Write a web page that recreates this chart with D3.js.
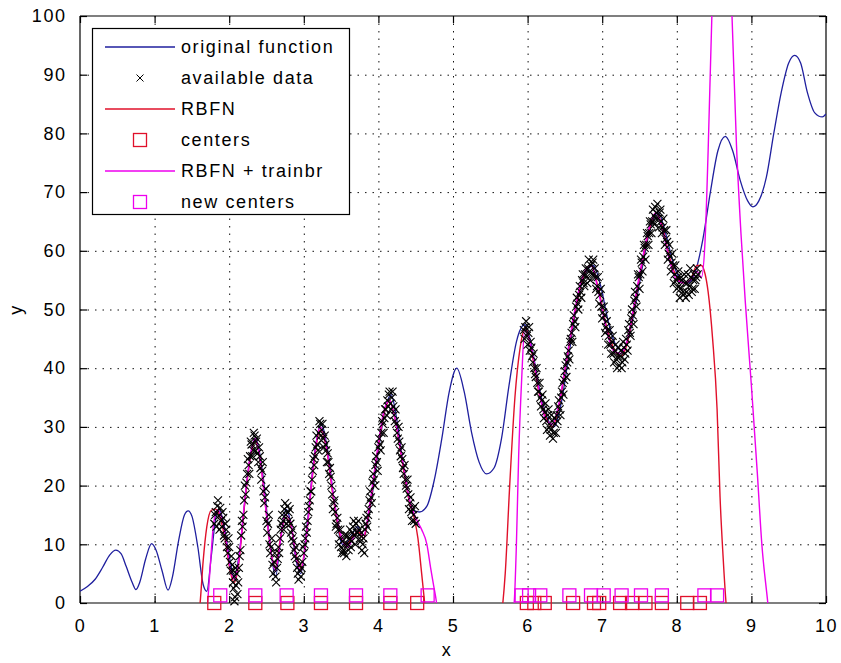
<!DOCTYPE html>
<html><head><meta charset="utf-8">
<script src="https://cdn.jsdelivr.net/npm/d3@7/dist/d3.min.js"></script>
<style>
body{margin:0;background:#fff}
svg text{font-family:"Liberation Sans",Arial,Helvetica,sans-serif;font-size:18px;letter-spacing:1.6px;fill:#000}
</style>
</head><body>
<svg id="chart" width="841" height="663"></svg>
<script>
// ---------- data ----------
const xTicks=[0,1,2,3,4,5,6,7,8,9,10];
const yTicks=[0,10,20,30,40,50,60,70,80,90,100];
const legendLabels=["original function","available data","RBFN","centers","RBFN + trainbr","new centers"];

const originalFunction=[[0,2],[0.1,2.8],[0.2,4],[0.3,6],[0.4,8.2],[0.48,9],[0.55,8.4],[0.62,6.2],[0.7,3.5],[0.75,2.3],[0.8,3.5],[0.88,7.5],[0.96,10.1],[1.02,9],[1.1,5.5],[1.18,2.2],[1.24,4.5],[1.32,10.5],[1.4,15],[1.45,15.7],[1.5,14.8],[1.58,9.5],[1.65,3.2],[1.7,2],[1.76,8],[1.82,14.5],[1.86,16],[1.92,14],[2,8],[2.07,4.4],[2.15,10],[2.25,22],[2.35,28],[2.45,22],[2.55,10],[2.62,4.5],[2.7,12],[2.76,16],[2.82,14],[2.9,7],[2.96,5],[3.05,14],[3.15,26],[3.23,30.5],[3.32,26],[3.42,16],[3.52,10],[3.62,11],[3.72,13],[3.8,11],[3.9,17],[4,26],[4.1,33.5],[4.17,35.5],[4.25,31],[4.35,22],[4.45,16],[4.55,15.5],[4.65,16.5],[4.75,21],[4.85,28],[4.95,36],[5.05,40],[5.15,36],[5.25,29],[5.35,24],[5.45,22],[5.55,23],[5.65,28],[5.75,37],[5.85,44.5],[5.96,47.4],[6.05,44],[6.15,37],[6.25,32],[6.35,30],[6.45,34],[6.55,42],[6.65,50],[6.75,55.5],[6.88,57.5],[6.98,54],[7.08,48],[7.18,44],[7.27,43],[7.35,45],[7.45,51],[7.55,58],[7.65,64],[7.75,66.5],[7.85,63],[7.95,58],[8.05,55],[8.15,54.5],[8.25,56.5],[8.35,62],[8.45,70],[8.55,77],[8.65,79.5],[8.75,77],[8.85,72],[8.95,68.5],[9.02,67.5],[9.1,68.5],[9.2,72.5],[9.3,80],[9.4,87],[9.5,92],[9.58,93.3],[9.66,92],[9.75,87],[9.85,83.5],[9.95,82.8],[10,83.3]];

const availableData=[[1.8,13.5],[1.82,15.5],[1.84,16.5],[1.86,14.8],[1.88,16.2],[1.9,13],[1.92,14.5],[1.94,11],[1.96,12.5],[1.98,8.5],[2,9.5],[2.02,5.5],[2.04,6.5],[2.06,2.5],[2.07,4.5],[2.07,0.3],[2.08,1],[2.09,3],[2.1,5],[2.12,3.5],[2.14,8],[2.16,11.5],[2.18,13],[2.2,17.5],[2.22,18.5],[2.24,22],[2.26,23.5],[2.28,25],[2.3,27],[2.32,26],[2.34,28.5],[2.36,27.5],[2.38,25.5],[2.4,26.5],[2.42,23],[2.44,22.5],[2.46,19],[2.48,18],[2.5,14],[2.52,13.5],[2.54,10],[2.56,9.5],[2.58,6.5],[2.6,7],[2.62,4.5],[2.64,6],[2.66,9.5],[2.68,11],[2.7,13.5],[2.72,14],[2.74,16],[2.76,15],[2.78,16.5],[2.8,14],[2.82,13.5],[2.84,11],[2.86,10.5],[2.88,8],[2.9,7.5],[2.92,5],[2.94,6.5],[2.96,4.5],[2.98,7],[3,8.5],[3.02,11],[3.04,12],[3.06,15.5],[3.08,17.5],[3.1,19],[3.12,22.5],[3.14,23.5],[3.16,26.5],[3.18,27],[3.2,29],[3.22,30.5],[3.24,29.5],[3.26,28],[3.28,28.5],[3.3,26],[3.32,25.5],[3.34,22],[3.36,21.5],[3.38,18.5],[3.4,17],[3.42,15.5],[3.44,13.5],[3.46,12.5],[3.48,11],[3.5,9.5],[3.52,10.5],[3.54,8.5],[3.56,10],[3.58,11.5],[3.6,9],[3.62,12.5],[3.64,10.5],[3.66,13],[3.68,11.5],[3.7,13.5],[3.72,12],[3.74,12.5],[3.76,10.5],[3.78,9],[3.8,11],[3.82,12.5],[3.84,14.5],[3.86,15],[3.88,17.5],[3.9,18],[3.92,20.5],[3.94,21],[3.96,23.5],[3.98,24],[4,26.5],[4.02,27],[4.04,29],[4.06,30.5],[4.08,31.5],[4.1,33],[4.12,34.5],[4.14,35.5],[4.16,34],[4.18,35],[4.2,33.5],[4.22,31],[4.24,30.5],[4.26,28],[4.28,27.5],[4.3,25],[4.32,24.5],[4.34,22],[4.36,21],[4.38,19.5],[4.4,18.5],[4.42,17],[4.44,15.5],[4.46,16],[4.48,14],[4.5,13.5],
[5.95,46.5],[5.97,47],[5.99,45.5],[6.01,46],[6.03,43],[6.05,43.5],[6.07,41],[6.09,40],[6.11,38.5],[6.13,37.5],[6.15,36],[6.17,35],[6.19,34.5],[6.21,33],[6.23,32.5],[6.25,31],[6.27,32],[6.29,30],[6.31,29.5],[6.33,31],[6.35,29],[6.37,30.5],[6.39,32],[6.41,33.5],[6.43,33],[6.45,35],[6.47,37.5],[6.49,38],[6.51,40.5],[6.53,41],[6.55,43],[6.57,44.5],[6.59,46],[6.61,47.5],[6.63,48],[6.65,50.5],[6.67,51],[6.69,52.5],[6.71,53],[6.73,55],[6.75,54.5],[6.77,56],[6.79,55.5],[6.81,57],[6.83,56.5],[6.85,57.5],[6.87,58],[6.89,56],[6.91,55.5],[6.93,54],[6.95,53],[6.97,52.5],[6.99,50.5],[7.01,49.5],[7.03,49],[7.05,47],[7.07,46.5],[7.09,45.5],[7.11,44],[7.13,44.5],[7.15,42.5],[7.17,43],[7.19,41.5],[7.21,42],[7.23,40.5],[7.25,43],[7.27,41],[7.29,43.5],[7.31,42.5],[7.33,44],[7.35,46.5],[7.37,46],[7.39,48.5],[7.41,49],[7.43,51.5],[7.45,52],[7.47,54],[7.49,55.5],[7.51,56],[7.53,58],[7.55,59],[7.57,60.5],[7.59,61],[7.61,62.5],[7.63,63],[7.65,64.5],[7.67,65],[7.69,66],[7.71,67.5],[7.73,66.5],[7.75,65.5],[7.77,66.5],[7.79,65],[7.81,64],[7.83,63.5],[7.85,62],[7.87,61.5],[7.89,59.5],[7.91,59],[7.93,58],[7.95,57.5],[7.97,56],[7.99,55],[8.01,55.5],[8.03,54],[8.05,53.5],[8.07,55],[8.09,52.5],[8.11,54.5],[8.13,53],[8.15,56],[8.17,54],[8.19,55.5],[8.21,53.5],[8.23,56],[8.25,55],[8.27,57]];

const availableDataMore=[[1.81,15],[1.83,13],[1.85,17.5],[1.87,12.5],[1.89,14],[1.91,15.5],[1.93,11.5],[1.95,13.5],[1.97,9.5],[1.99,11],[2.01,7],[2.03,8],[2.05,3.5],[2.05,5.5],[2.08,6],[2.11,1.5],[2.13,6],[2.15,9],[2.17,14],[2.19,15],[2.21,20],[2.23,20.5],[2.25,24.5],[2.27,22],[2.29,27.5],[2.31,25],[2.33,29],[2.35,26],[2.37,28],[2.39,24],[2.41,25],[2.43,21],[2.45,24],[2.47,17],[2.49,19.5],[2.51,12],[2.53,15],[2.55,8.5],[2.57,11],[2.59,5],[2.61,8.5],[2.63,3.5],[2.65,7.5],[2.67,8.5],[2.69,12.5],[2.71,15],[2.73,12.5],[2.75,17],[2.77,13.5],[2.79,15.5],[2.81,16],[2.83,12],[2.85,12.5],[2.87,9],[2.89,9.5],[2.91,6],[2.93,4],[2.95,5.5],[2.97,6],[2.99,9.5],[3.01,10],[3.03,13],[3.05,14],[3.07,16.5],[3.09,19],[3.11,21],[3.13,24.5],[3.15,25],[3.17,28.5],[3.19,26],[3.21,31],[3.23,28.5],[3.25,30.5],[3.27,26.5],[3.29,27],[3.31,24],[3.33,24],[3.35,23],[3.37,20],[3.39,16],[3.41,17.5],[3.43,13],[3.45,14.5],[3.47,10],[3.49,12.5],[3.51,8.5],[3.53,9],[3.55,11.5],[3.57,8],[3.59,10],[3.61,11],[3.63,9.5],[3.65,12],[3.67,14],[3.69,10],[3.71,12],[3.73,14],[3.75,11],[3.77,12],[3.79,10],[3.81,8.5],[3.83,13.5],[3.85,13],[3.87,16],[3.89,19],[3.91,17],[3.93,22],[3.95,20],[3.97,25],[3.99,22.5],[4.01,28],[4.03,26],[4.05,31],[4.07,29],[4.09,33],[4.11,32],[4.13,33.5],[4.15,36],[4.17,33],[4.19,36],[4.21,32],[4.23,33],[4.25,29],[4.27,30],[4.29,26],[4.31,26.5],[4.33,23],[4.35,23.5],[4.37,20],[4.39,21],[4.41,16],[4.43,18],[4.45,14],[4.47,15],[4.49,16.5],
[5.96,45],[5.98,48],[6,44],[6.02,47],[6.04,44.5],[6.06,42],[6.08,42.5],[6.1,39],[6.12,40],[6.14,36],[6.16,37.5],[6.18,33.5],[6.2,35.5],[6.22,31.5],[6.24,34],[6.26,29.5],[6.28,33],[6.3,28.5],[6.32,32],[6.34,28],[6.36,31.5],[6.38,29],[6.4,31],[6.42,34.5],[6.44,32],[6.46,36],[6.48,35.5],[6.5,39.5],[6.52,38.5],[6.54,42],[6.56,41.5],[6.58,45],[6.6,44.5],[6.62,49],[6.64,47],[6.66,52],[6.68,50],[6.7,54],[6.72,52],[6.74,56],[6.76,54],[6.78,57],[6.8,54.5],[6.82,58.5],[6.84,55],[6.86,56],[6.88,58.5],[6.9,57],[6.92,53.5],[6.94,55.5],[6.96,51],[6.98,53.5],[7,48.5],[7.02,50.5],[7.04,46],[7.06,48],[7.08,44],[7.1,46.5],[7.12,42.5],[7.14,45.5],[7.16,41],[7.18,44],[7.2,40],[7.22,43.5],[7.24,42],[7.26,40],[7.28,44.5],[7.3,41.5],[7.32,45],[7.34,43],[7.36,47.5],[7.38,45.5],[7.4,50],[7.42,47.5],[7.44,53],[7.46,50.5],[7.48,56],[7.5,53.5],[7.52,58.5],[7.54,56.5],[7.56,61],[7.58,58.5],[7.6,63],[7.62,61],[7.64,65],[7.66,63],[7.68,67],[7.7,64.5],[7.72,65.5],[7.74,68],[7.76,64],[7.78,67],[7.8,63],[7.82,65.5],[7.84,61],[7.86,63.5],[7.88,58.5],[7.9,61],[7.92,56.5],[7.94,59.5],[7.96,54.5],[7.98,57.5],[8,53.5],[8.02,56.5],[8.04,52],[8.06,55.5],[8.08,53],[8.1,56],[8.12,52],[8.14,54.5],[8.16,52.5],[8.18,57],[8.2,53],[8.22,55],[8.24,53.5],[8.26,55.5],[8.28,56]];

const rbfn=[[1.55,-4],[1.61,0],[1.65,7],[1.7,13],[1.76,15.8],[1.82,16],[1.88,14.5],[1.95,10.5],[2.02,5],[2.07,3.5],[2.12,6],[2.2,16],[2.28,24.5],[2.35,27.5],[2.42,24],[2.5,15],[2.57,8],[2.62,6],[2.68,10.5],[2.75,14.5],[2.82,13.5],[2.9,8],[2.96,6],[3.04,12],[3.12,22],[3.22,29.5],[3.3,26.5],[3.4,17.5],[3.5,11],[3.58,10],[3.66,11.5],[3.74,12],[3.8,11],[3.88,16],[3.98,25],[4.08,32.5],[4.15,34.5],[4.22,31.5],[4.32,24],[4.42,17],[4.48,14.5],[4.53,11],[4.58,5],[4.62,0],[4.66,-5],[5.6,-5],[5.66,-1],[5.7,5],[5.76,20],[5.83,35],[5.9,43.5],[5.97,47],[6.05,43],[6.15,36],[6.25,31.5],[6.33,30],[6.42,33.5],[6.52,41],[6.62,48.5],[6.72,54.5],[6.85,57.5],[6.95,53.5],[7.05,47.5],[7.15,43.5],[7.25,42],[7.33,44],[7.43,50.5],[7.53,57.5],[7.63,63.5],[7.72,66.5],[7.8,64.5],[7.9,59],[8,55.5],[8.1,54.5],[8.18,55],[8.27,57.5],[8.33,57.5],[8.38,56],[8.42,53],[8.48,45],[8.54,33],[8.58,18],[8.62,8],[8.66,0],[8.7,-5]];

const rbfnTrainbr=[[1.65,-5],[1.71,0],[1.75,7],[1.79,13.5],[1.84,15.8],[1.9,14.5],[1.96,10.5],[2.02,5.5],[2.07,4],[2.12,6.5],[2.2,16.5],[2.28,25],[2.35,28],[2.42,24],[2.5,15],[2.57,8],[2.62,5.5],[2.68,10],[2.75,15],[2.82,14],[2.9,7.5],[2.96,5.5],[3.04,12],[3.12,22.5],[3.22,30],[3.3,27],[3.4,18],[3.5,11.5],[3.58,9.5],[3.66,11],[3.74,12.5],[3.8,11.5],[3.88,16.5],[3.98,25.5],[4.08,33],[4.15,34.5],[4.22,31.5],[4.32,24.5],[4.42,17.5],[4.5,14.5],[4.58,12.5],[4.65,10],[4.7,6],[4.74,3],[4.78,0],[4.82,-5],[5.75,-5],[5.82,0],[5.85,10],[5.88,25],[5.92,38],[5.96,46.5],[6.05,43.5],[6.15,36.5],[6.25,31],[6.33,30.5],[6.42,34],[6.52,41.5],[6.62,49],[6.72,55],[6.85,57.5],[6.95,53],[7.05,47],[7.15,43],[7.25,42.5],[7.33,44.5],[7.43,51],[7.53,58],[7.63,64],[7.72,66.5],[7.8,64],[7.9,58.5],[8,55],[8.1,54.5],[8.18,55],[8.27,56.5],[8.33,55.5],[8.38,62],[8.42,77],[8.47,100],[8.52,116],[8.6,126],[8.68,116],[8.74,100],[8.8,78],[8.86,63],[8.92,51],[9,37],[9.08,22],[9.14,10],[9.22,0],[9.28,-8]];

const centersX=[1.8,2.35,2.78,3.23,3.7,4.16,4.52,5.99,6.09,6.23,6.61,6.89,6.96,7.24,7.4,7.58,7.8,8.14,8.31];
const centersY=[0,0,0,0,0,0,0,0,0,0,0,0,0,0,0,0,0,0,0];
const newCentersX=[1.88,2.35,2.77,3.23,3.7,4.16,4.66,5.92,6.02,6.17,6.56,6.85,7.02,7.26,7.52,7.8,8.37,8.54];
const newCentersY=[1.3,1.3,1.3,1.3,1.3,1.3,1.3,1.3,1.3,1.3,1.3,1.3,1.3,1.3,1.3,1.3,1.3,1.3];

// ---------- styles ----------
const C_BLUE="#1f1f9e", C_RED="#e0102a", C_MAG="#ee00ee";

const svg=d3.select("#chart");
const L=80,R=826,T=16,B=603;
const x=d3.scaleLinear().domain([0,10]).range([L,R]);
const y=d3.scaleLinear().domain([0,100]).range([B,T]);

svg.append("rect").attr("x",0).attr("y",0).attr("width",841).attr("height",663).attr("fill","#fff");
svg.append("defs").append("clipPath").attr("id","clip").append("rect")
  .attr("x",L).attr("y",T).attr("width",R-L).attr("height",B-T);

// grid
const grid=svg.append("g").attr("stroke","#111").attr("stroke-width",1).attr("stroke-dasharray","1.5,6");
grid.selectAll("line.vx").data(xTicks.slice(1,-1)).join("line")
  .attr("x1",d=>x(d)+0.5).attr("x2",d=>x(d)+0.5).attr("y1",T).attr("y2",B);
grid.selectAll("line.hy").data(yTicks.slice(1,-1)).join("line")
  .attr("y1",d=>y(d)+0.5).attr("y2",d=>y(d)+0.5).attr("x1",L).attr("x2",R);

// axes (box with inward ticks)
const tl=7;
const axB=svg.append("g").attr("transform",`translate(0,${B})`)
  .call(d3.axisBottom(x).tickValues(xTicks).tickSize(-tl).tickPadding(tl+9).tickFormat(d3.format("d")));
const axT=svg.append("g").attr("transform",`translate(0,${T})`)
  .call(d3.axisTop(x).tickValues(xTicks).tickSize(-tl).tickFormat(""));
const axL=svg.append("g").attr("transform",`translate(${L},0)`)
  .call(d3.axisLeft(y).tickValues(yTicks).tickSize(-tl).tickPadding(tl+8).tickFormat(d3.format("d")));
const axR=svg.append("g").attr("transform",`translate(${R},0)`)
  .call(d3.axisRight(y).tickValues(yTicks).tickSize(-tl).tickFormat(""));
[axB,axT,axL,axR].forEach(a=>{
  a.select(".domain").attr("stroke","#000").attr("stroke-width",1.2);
  a.selectAll(".tick line").attr("stroke","#000").attr("stroke-width",1.2);
  a.selectAll("text").attr("font-family",null).attr("font-size",null).attr("fill","#000");
});
axB.select(".domain").attr("d",`M${L},0H${R}`);
axT.select(".domain").attr("d",`M${L},0H${R}`);
axL.select(".domain").attr("d",`M0,${T}V${B}`);
axR.select(".domain").attr("d",`M0,${T}V${B}`);
axL.selectAll("text").attr("dx","1.6px");

// axis labels
svg.append("text").attr("x",x(5)-6).attr("y",656).attr("text-anchor","middle").text("x");
svg.append("text").attr("transform",`translate(22,${(T+B)/2}) rotate(-90)`).attr("text-anchor","middle").text("y");

const plot=svg.append("g").attr("clip-path","url(#clip)");
const line=d3.line().x(d=>x(d[0])).y(d=>y(d[1])).curve(d3.curveMonotoneX);

// original function
plot.append("path").datum(originalFunction).attr("d",line).attr("fill","none").attr("stroke",C_BLUE).attr("stroke-width",1.3);

// available data (x marks)
const xs=4;
svg.append("g").selectAll("path").data(availableData.concat(availableDataMore)).join("path")
  .attr("d",d=>{const cx=x(d[0]),cy=y(d[1]);return `M${cx-xs},${cy-xs}L${cx+xs},${cy+xs}M${cx-xs},${cy+xs}L${cx+xs},${cy-xs}`;})
  .attr("stroke","#000").attr("stroke-width",1.1).attr("fill","none");

// RBFN
plot.append("path").datum(rbfn).attr("d",line).attr("fill","none").attr("stroke",C_RED).attr("stroke-width",1.4);
const sq=13;
svg.append("g").selectAll("rect").data(centersX).join("rect")
  .attr("x",(d)=>x(d)-sq/2).attr("y",(d,i)=>y(centersY[i])-sq/2).attr("width",sq).attr("height",sq)
  .attr("fill","none").attr("stroke",C_RED).attr("stroke-width",1.3);

// RBFN + trainbr
plot.append("path").datum(rbfnTrainbr).attr("d",line).attr("fill","none").attr("stroke",C_MAG).attr("stroke-width",1.4);
svg.append("g").selectAll("rect").data(newCentersX).join("rect")
  .attr("x",(d)=>x(d)-sq/2).attr("y",(d,i)=>y(newCentersY[i])-sq/2).attr("width",sq).attr("height",sq)
  .attr("fill","none").attr("stroke",C_MAG).attr("stroke-width",1.3);

// legend
const lg=svg.append("g");
const lx=92,ly=28,lw=257,lh=186,rowH=31,row0=47;
lg.append("rect").attr("x",lx+0.5).attr("y",ly+0.5).attr("width",lw).attr("height",lh).attr("fill","#fff").attr("stroke","#000").attr("stroke-width",1.2);
const kinds=[{t:"line",c:C_BLUE},{t:"x",c:"#000"},{t:"line",c:C_RED},{t:"sq",c:C_RED},{t:"line",c:C_MAG},{t:"sq",c:C_MAG}];
legendLabels.forEach((lab,i)=>{
  const cy=row0+i*rowH;
  const k=kinds[i];
  if(k.t==="line") lg.append("line").attr("x1",105).attr("x2",175).attr("y1",cy).attr("y2",cy).attr("stroke",k.c).attr("stroke-width",1.3);
  else if(k.t==="x") lg.append("path").attr("d",`M${140-3.5},${cy-3.5}L${140+3.5},${cy+3.5}M${140-3.5},${cy+3.5}L${140+3.5},${cy-3.5}`).attr("stroke","#000").attr("stroke-width",1);
  else lg.append("rect").attr("x",140-sq/2).attr("y",cy-sq/2).attr("width",sq).attr("height",sq).attr("fill","none").attr("stroke",k.c).attr("stroke-width",1.3);
  lg.append("text").attr("x",181).attr("y",cy+6).text(lab);
});
</script>
</body></html>
